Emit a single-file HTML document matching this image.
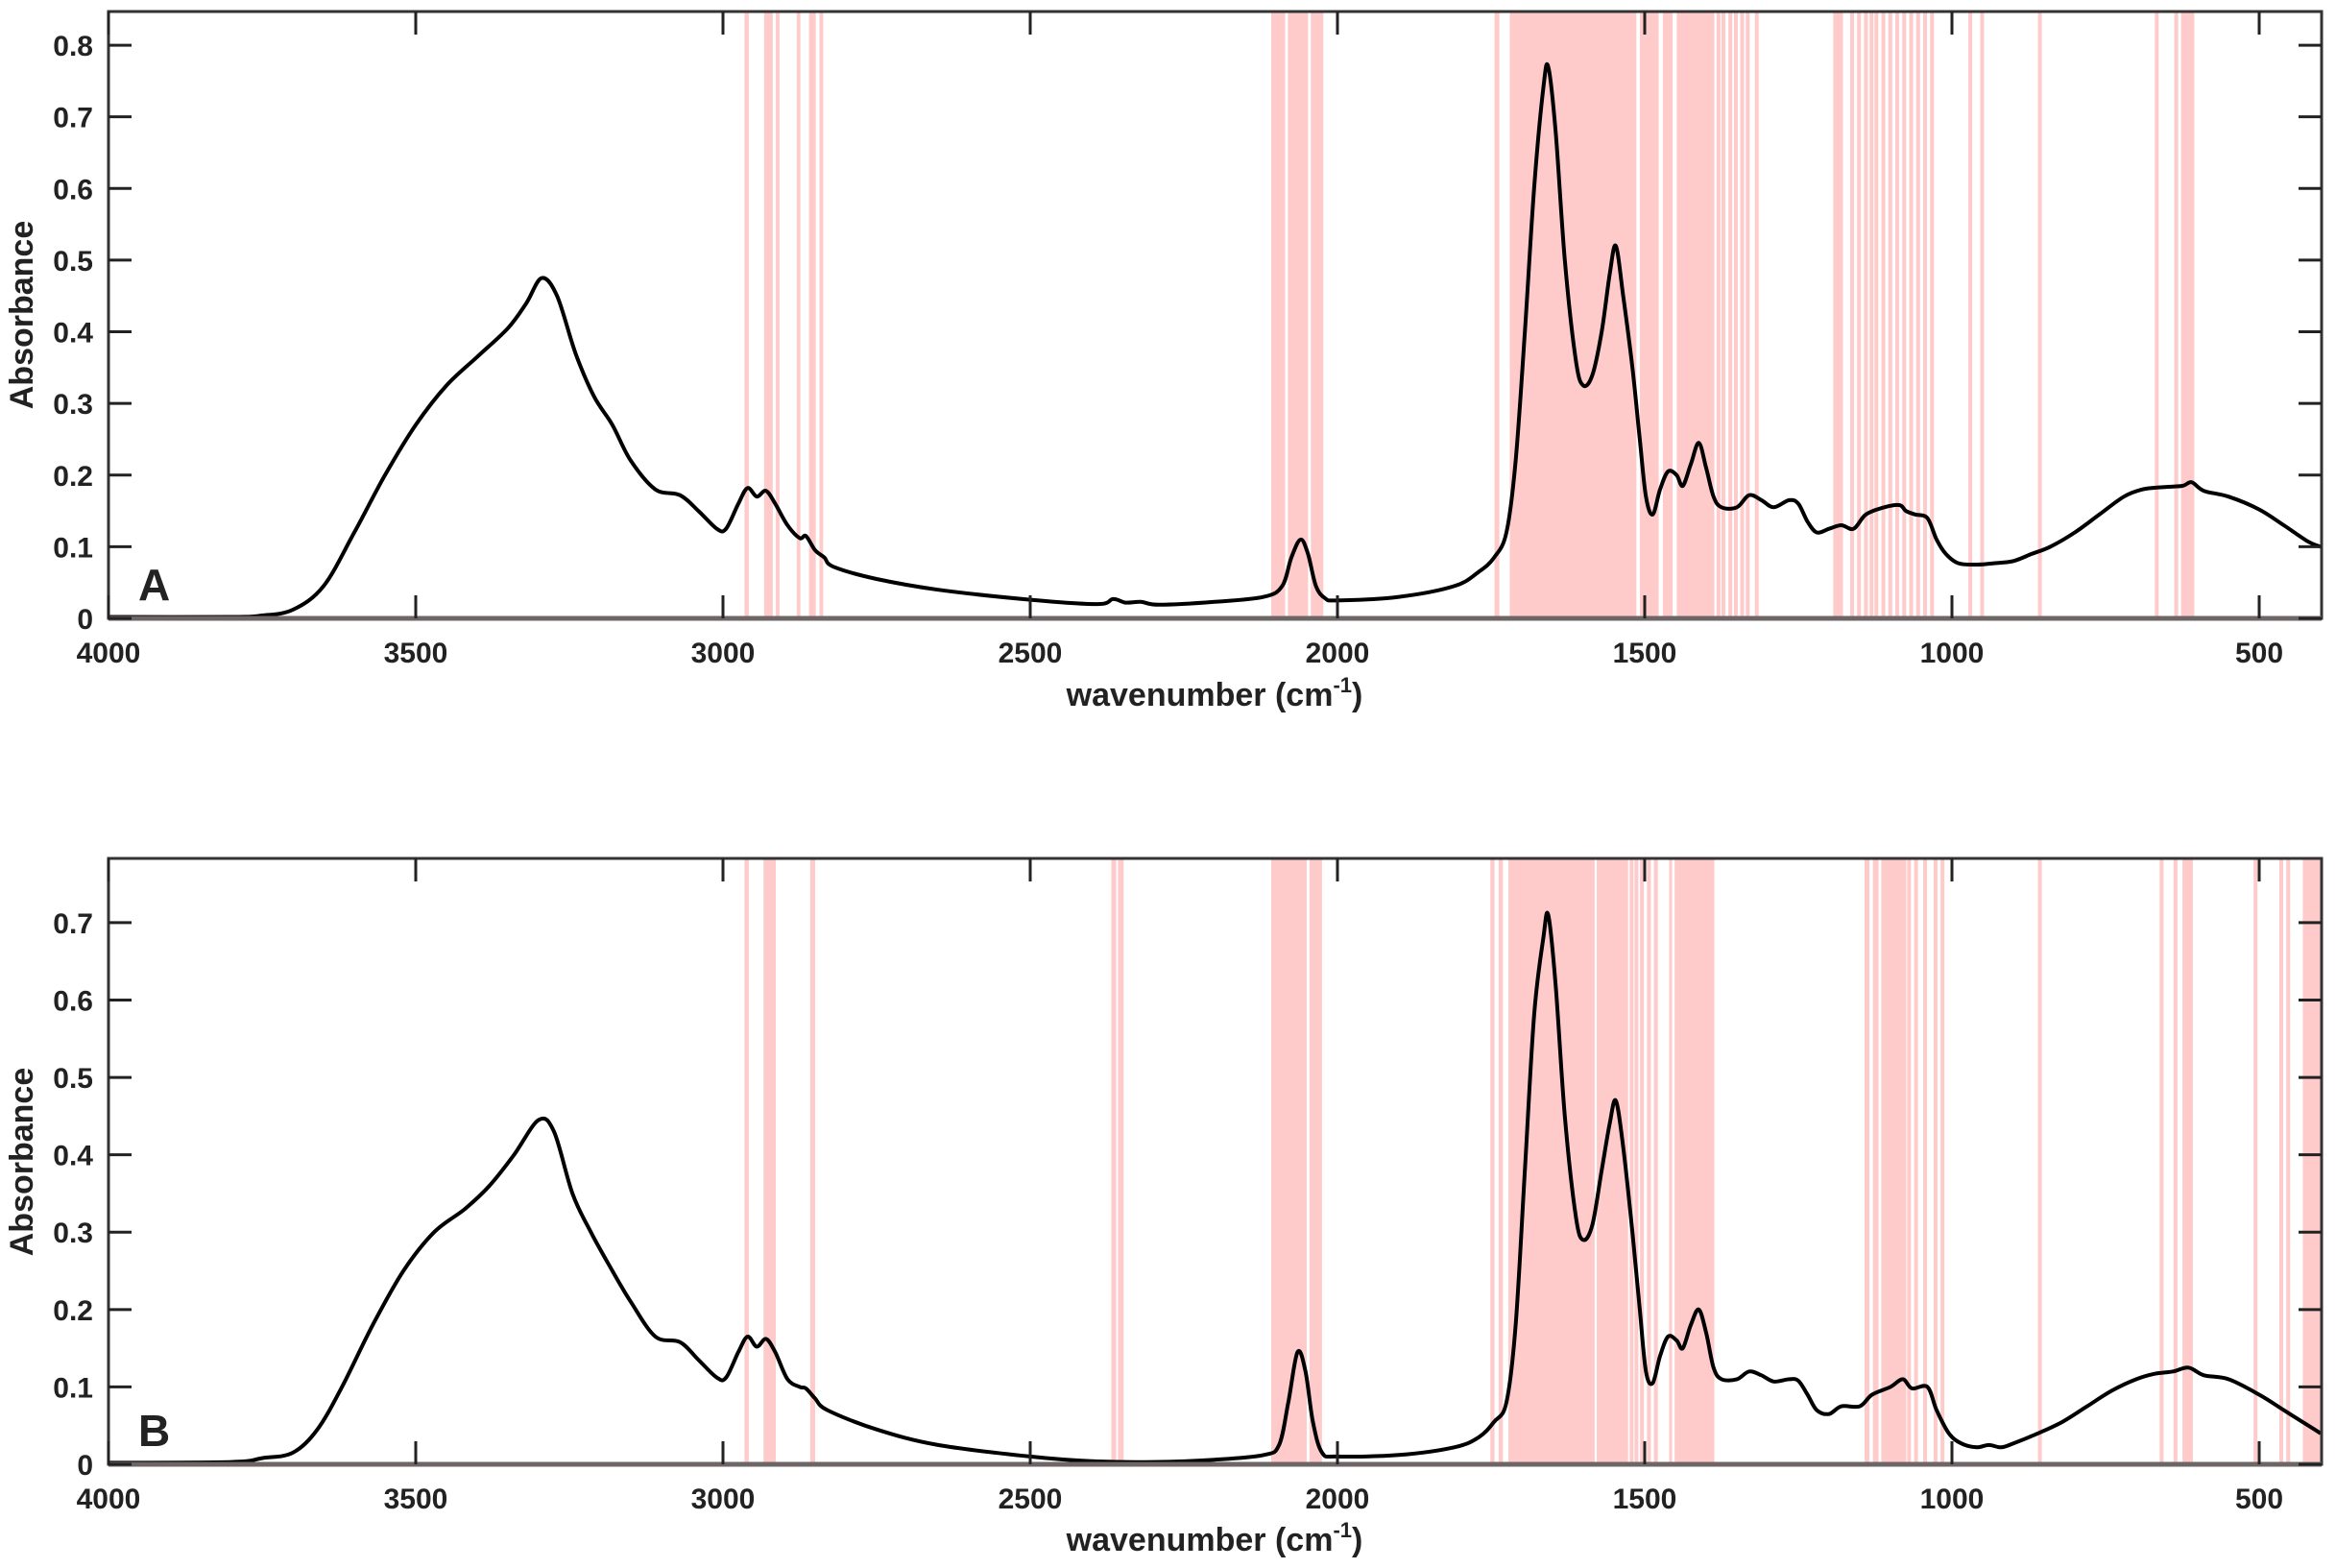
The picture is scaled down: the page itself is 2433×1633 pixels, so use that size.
<!DOCTYPE html>
<html><head><meta charset="utf-8"><style>
html,body{margin:0;padding:0;background:#fff}
svg{display:block}
text{font-family:"Liberation Sans",Arial,sans-serif;font-weight:bold;fill:#222}
</style></head><body>
<svg id="s" width="2433" height="1633" viewBox="0 0 2433 1633" xmlns="http://www.w3.org/2000/svg">
<g id="bands"></g>
<g id="curves" fill="none" stroke="#000" stroke-width="4" stroke-linejoin="round"></g>
<g id="axes"></g>
<text x="144" y="625" font-size="46">A</text>
<text x="144" y="1506" font-size="46">B</text>
<text x="1265" y="735" font-size="34" text-anchor="middle">wavenumber (cm<tspan dy="-14" font-size="22">-1</tspan><tspan dy="14">)</tspan></text>
<text x="1265" y="1615" font-size="34" text-anchor="middle">wavenumber (cm<tspan dy="-14" font-size="22">-1</tspan><tspan dy="14">)</tspan></text>
<text transform="translate(34,328) rotate(-90)" font-size="34" text-anchor="middle">Absorbance</text>
<text transform="translate(34,1210) rotate(-90)" font-size="34" text-anchor="middle">Absorbance</text>
</svg>
<script>
var NS="http://www.w3.org/2000/svg";
function el(p,t,a){var e=document.createElementNS(NS,t);for(var k in a)e.setAttribute(k,a[k]);p.appendChild(e);return e;}
var X0=113,X1=2418;
function xw(w){return X0+(4000-w)*0.64;}
var P=[{top:12,bot:644,ymax:0.847,nt:8},{top:894,bot:1525,ymax:0.783,nt:7}];
function yv(p,a){return p.bot-(p.bot-p.top)*a/p.ymax;}
function zx(z){return 1324+(z-35)*0.7245;}
var bandsG=document.getElementById('bands');
function band(p,x1,x2){x2=Math.min(x2,X1);if(x2<=x1)return;el(bandsG,'rect',{x:x1,y:p.top,width:Math.max(x2-x1,3),height:p.bot-p.top,fill:'#fecaca'});}
function wband(p,w1,w2){band(p,xw(w1),xw(w2));}
function zb(p,a,b){band(p,zx(a),zx(b));}
function zl(p,a){band(p,zx(a)-2,zx(a)+2);}
var A=P[0],B=P[1];
[[2965,2958],[2933,2919],[2914,2908],[2880,2874],[2860,2849],[2843,2837]].forEach(function(r){wband(A,r[0],r[1]);});
zb(A,35,55);zb(A,59,88);zb(A,92,110);zb(A,356,363);zb(A,378,560);zb(A,565,592);zb(A,598,612);zb(A,618,672);
[678,685,695,703,712,720,733].forEach(function(z){zl(A,z);});
zb(A,843,857);
[870,880,890,898,905,915,925,935,945,955,965,975,985,1040,1057,1140,1308,1336].forEach(function(z){zl(A,z);});
zb(A,1343,1362);
[[2965,2958],[2934,2914],[2858,2850],[2368,2360],[2357,2348]].forEach(function(r){wband(B,r[0],r[1]);});
zb(B,35,86);zb(B,90,108);zb(B,350,356);zb(B,362,368);zb(B,376,500);zb(B,503,548);
[553,560,568,578,588].forEach(function(z){zl(B,z);});
zb(B,607,611);zb(B,615,672);zb(B,888,895);zb(B,900,908);zb(B,912,948);
[952,962,975,990,1000,1140,1315,1335,1450,1487,1497].forEach(function(z){zl(B,z);});
zb(B,1345,1360);zb(B,1518,1560);
var dA=[[4000,0.002],[3800,0.002],[3750,0.004],[3700,0.012],[3650,0.045],[3600,0.12],[3550,0.2],[3500,0.27],[3450,0.325],[3400,0.365],[3350,0.405],[3320,0.44],[3295,0.475],[3270,0.45],[3240,0.37],[3210,0.31],[3180,0.27],[3150,0.22],[3110,0.18],[3070,0.172],[3040,0.15],[3010,0.125],[2995,0.125],[2975,0.16],[2960,0.182],[2945,0.17],[2930,0.178],[2915,0.16],[2895,0.13],[2875,0.112],[2865,0.115],[2850,0.095],[2835,0.085],[2820,0.072],[2750,0.055],[2650,0.04],[2500,0.026],[2390,0.02],[2365,0.027],[2345,0.022],[2320,0.023],[2290,0.019],[2200,0.023],[2120,0.03],[2090,0.045],[2075,0.085],[2060,0.11],[2048,0.09],[2035,0.045],[2020,0.028],[2000,0.025],[1900,0.03],[1810,0.045],[1770,0.065],[1745,0.085],[1725,0.12],[1710,0.22],[1695,0.4],[1680,0.6],[1665,0.74],[1657,0.77],[1645,0.68],[1630,0.5],[1612,0.36],[1600,0.325],[1585,0.34],[1570,0.4],[1557,0.48],[1547,0.52],[1535,0.45],[1520,0.35],[1508,0.25],[1498,0.17],[1487,0.145],[1475,0.18],[1462,0.205],[1448,0.2],[1438,0.185],[1425,0.215],[1412,0.245],[1400,0.21],[1388,0.17],[1375,0.155],[1350,0.155],[1330,0.172],[1310,0.165],[1290,0.155],[1265,0.165],[1250,0.16],[1235,0.135],[1220,0.12],[1200,0.125],[1180,0.13],[1160,0.125],[1140,0.145],[1110,0.155],[1085,0.158],[1075,0.15],[1060,0.145],[1040,0.14],[1025,0.11],[1010,0.09],[990,0.077],[960,0.075],[930,0.077],[900,0.08],[870,0.09],[840,0.1],[800,0.12],[760,0.145],[720,0.17],[690,0.18],[660,0.183],[625,0.185],[610,0.19],[590,0.178],[550,0.17],[500,0.152],[460,0.13],[420,0.107],[400,0.1]];
var dB=[[4000,0.002],[3800,0.003],[3750,0.008],[3700,0.015],[3660,0.045],[3620,0.1],[3570,0.18],[3520,0.25],[3470,0.3],[3420,0.33],[3380,0.36],[3340,0.4],[3300,0.445],[3275,0.43],[3245,0.35],[3215,0.3],[3180,0.25],[3150,0.21],[3110,0.165],[3070,0.158],[3040,0.135],[3010,0.112],[2995,0.112],[2975,0.145],[2960,0.165],[2945,0.152],[2930,0.162],[2915,0.145],[2895,0.11],[2875,0.1],[2865,0.098],[2850,0.085],[2830,0.07],[2750,0.045],[2650,0.025],[2500,0.01],[2400,0.004],[2300,0.003],[2200,0.006],[2120,0.012],[2095,0.025],[2080,0.08],[2065,0.145],[2052,0.12],[2040,0.055],[2025,0.015],[2000,0.01],[1900,0.012],[1810,0.022],[1770,0.035],[1745,0.055],[1725,0.08],[1710,0.18],[1695,0.38],[1680,0.58],[1665,0.68],[1657,0.71],[1645,0.62],[1630,0.45],[1612,0.32],[1600,0.29],[1585,0.31],[1570,0.38],[1557,0.44],[1547,0.47],[1535,0.41],[1520,0.3],[1508,0.2],[1498,0.12],[1487,0.105],[1475,0.14],[1462,0.165],[1448,0.16],[1438,0.15],[1425,0.18],[1412,0.2],[1400,0.17],[1388,0.125],[1375,0.11],[1350,0.11],[1330,0.12],[1310,0.115],[1290,0.107],[1265,0.11],[1250,0.108],[1235,0.09],[1220,0.07],[1200,0.065],[1180,0.075],[1150,0.075],[1130,0.09],[1100,0.1],[1080,0.11],[1065,0.098],[1040,0.1],[1025,0.07],[1005,0.04],[985,0.027],[960,0.022],[940,0.025],[920,0.022],[900,0.027],[860,0.04],[820,0.055],[780,0.075],[740,0.095],[700,0.11],[670,0.117],[640,0.12],[615,0.125],[590,0.115],[550,0.11],[500,0.09],[460,0.07],[420,0.05],[400,0.04]];
function path(p,d){var pts=d.map(function(q){return [xw(q[0]),yv(p,q[1])];});
var s="M"+pts[0][0].toFixed(1)+","+pts[0][1].toFixed(1);
for(var i=0;i<pts.length-1;i++){var p0=pts[Math.max(i-1,0)],p1=pts[i],p2=pts[i+1],p3=pts[Math.min(i+2,pts.length-1)];
var c1=[p1[0]+(p2[0]-p0[0])/6,p1[1]+(p2[1]-p0[1])/6],c2=[p2[0]-(p3[0]-p1[0])/6,p2[1]-(p3[1]-p1[1])/6];
s+="C"+c1[0].toFixed(1)+","+c1[1].toFixed(1)+" "+c2[0].toFixed(1)+","+c2[1].toFixed(1)+" "+p2[0].toFixed(1)+","+p2[1].toFixed(1);}
el(document.getElementById('curves'),'path',{d:s});}
path(A,dA);path(B,dB);
var ax=document.getElementById('axes');
P.forEach(function(p){
 el(ax,'rect',{x:X0,y:p.top,width:X1-X0,height:p.bot-p.top,fill:'none',stroke:'#333','stroke-width':3});
 el(ax,'line',{x1:X0,y1:p.bot,x2:X1,y2:p.bot,stroke:'#6e6666','stroke-width':5});
 [4000,3500,3000,2500,2000,1500,1000,500].forEach(function(w){var x=xw(w);
  el(ax,'line',{x1:x,y1:p.bot,x2:x,y2:p.bot-24,stroke:'#222','stroke-width':3});
  el(ax,'line',{x1:x,y1:p.top,x2:x,y2:p.top+24,stroke:'#222','stroke-width':3});
  var t=el(ax,'text',{x:x,y:p.bot+46,'font-size':30,'text-anchor':'middle'});t.textContent=w;});
 for(var i=0;i<=p.nt;i++){var v=i/10,y=yv(p,v);
  el(ax,'line',{x1:X0,y1:y,x2:X0+24,y2:y,stroke:'#222','stroke-width':3});
  el(ax,'line',{x1:X1,y1:y,x2:X1-24,y2:y,stroke:'#222','stroke-width':3});
  var t=el(ax,'text',{x:97,y:y+11,'font-size':30,'text-anchor':'end'});t.textContent=i==0?"0":v.toFixed(1);}
});
</script>
</body></html>
